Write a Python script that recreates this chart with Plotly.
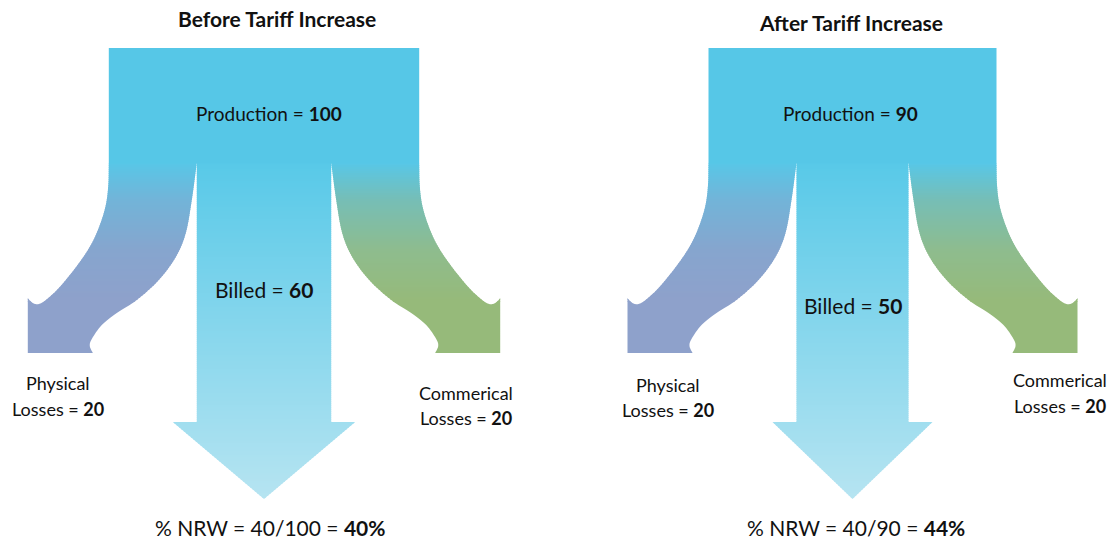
import numpy as np
import plotly.graph_objects as go

# ---------------- data ----------------
panel_titles = ["Before Tariff Increase", "After Tariff Increase"]
production = [100, 90]
billed = [60, 50]
physical_losses = [20, 20]
commercial_losses = [20, 20]

# ---------------- layout / style constants ----------------
W, H = 1112, 541
FONT = "Lato"
PANEL_CX = [264, 852.5]          # centre of billed stem per panel
TITLE_POS = [(277, 18), (851, 22)]
Y_TOP, Y_SPLIT, Y_BOX_BOT, Y_TIP = 48, 163, 353, 499
PX_BILLED, PX_LOSS = 2.24, 4.4    # pixels per unit of flow
HEAD_EXTRA, HEAD_H = 24, 77
PROD_LABEL = [(269, 113), (850, 113)]
BILLED_LABEL_Y = [289, 305]
PHYS_LABEL = [(58, 383, 409), (668, 385, 410)]
COMM_LABEL = [(466, 393, 418), (1060, 380, 406)]
NRW_LABEL = [(270, 527), (856, 527)]

PROD_COLOR = (86, 199, 231)
BILLED_STOPS = [(163, (88, 201, 232)), (499, (182, 228, 241))]
PHYS_STOPS = [(163, (88, 199, 231)), (200, (114, 180, 216)), (250, (134, 165, 206)), (300, (142, 161, 203))]
COMM_STOPS = [(163, (88, 199, 231)), (200, (118, 190, 182)), (250, (142, 188, 142)), (300, (150, 186, 122))]

# branch outline (local: d = outward distance from production edge, y)
OUTER_PTS = [(0, 163), (0.5, 185), (3, 205), (9, 225), (18, 245), (32, 266), (50, 288),
             (63, 300), (70, 304), (75, 303.5), (79, 300.5), (81, 298)]
BOX_OUT, BOX_IN = 81, 16
INNER_LOW = [(16, 353), (19, 346), (17, 339), (7, 325)]
INNER_UP_OFF = [(80, 313), (60, 300), (38, 280), (21, 257), (11, 233), (5, 200), (0, 163)]


def smooth(pts, n=10):
    pts = np.array(pts, float)
    P = np.vstack([pts[0] * 2 - pts[1], pts, pts[-1] * 2 - pts[-2]])
    out = []
    for i in range(1, len(P) - 2):
        p0, p1, p2, p3 = P[i - 1], P[i], P[i + 1], P[i + 2]
        for t in np.linspace(0, 1, n, endpoint=False):
            t2, t3 = t * t, t * t * t
            out.append(0.5 * ((2 * p1) + (-p0 + p2) * t + (2 * p0 - 5 * p1 + 4 * p2 - p3) * t2
                              + (-p0 + 3 * p1 - 3 * p2 + p3) * t3))
    out.append(P[-2])
    return [tuple(p) for p in out]


def clip_half(poly, y0, sign):
    out = []
    n = len(poly)
    for i in range(n):
        P, Q = poly[i], poly[(i + 1) % n]
        pin = sign * (P[1] - y0) >= 0
        qin = sign * (Q[1] - y0) >= 0
        if pin:
            out.append(P)
        if pin != qin:
            t = (y0 - P[1]) / (Q[1] - P[1])
            out.append((P[0] + t * (Q[0] - P[0]), y0))
    return out


def color_at(stops, y):
    if y <= stops[0][0]:
        c = stops[0][1]
    elif y >= stops[-1][0]:
        c = stops[-1][1]
    else:
        for (ya, ca), (yb, cb) in zip(stops[:-1], stops[1:]):
            if ya <= y <= yb:
                f = (y - ya) / (yb - ya)
                c = tuple(ca[k] + f * (cb[k] - ca[k]) for k in range(3))
                break
    return "rgb(%d,%d,%d)" % tuple(round(v) for v in c)


def path_of(poly):
    return "M " + " L ".join("%.2f,%.2f" % p for p in poly) + " Z"


def gradient_shapes(poly, stops, y0, y1, step=2.0):
    shapes = []
    y = y0
    last = stops[-1][0]
    while y < y1:
        if y >= last:
            yb = y1
        else:
            yb = min(y + step, y1)
        ext = 0.8 if yb < y1 else 0
        band = clip_half(clip_half(poly, y, +1), yb + ext, -1)
        if len(band) >= 3:
            shapes.append(dict(type="path", xref="x", yref="y", path=path_of(band),
                               fillcolor=color_at(stops, (y + yb) / 2),
                               line=dict(width=0), layer="above"))
        y = yb
    return shapes


def branch_poly(x0, sign, L):
    outer = smooth(OUTER_PTS, 8)
    inner_pts = INNER_LOW + [(-L + off, yy) for off, yy in INNER_UP_OFF]
    inner = smooth(inner_pts, 8)
    local = outer + [(BOX_OUT, Y_BOX_BOT), (BOX_IN, Y_BOX_BOT)] + inner[1:]
    return [(x0 + sign * d, yy) for d, yy in local]


shapes = []
annotations = []


def ann(x, y, text, size):
    annotations.append(dict(x=x, y=y, xref="x", yref="y", text=text, showarrow=False,
                            xanchor="center", yanchor="middle",
                            font=dict(family=FONT, size=size, color="#111111")))


for i in range(2):
    cx = PANEL_CX[i]
    B = billed[i] * PX_BILLED
    Lp = physical_losses[i] * PX_LOSS
    Lc = commercial_losses[i] * PX_LOSS
    xl = cx - B / 2 - Lp
    xr = cx + B / 2 + Lc

    # loss branches
    phys = branch_poly(xl, -1, Lp)
    comm = branch_poly(xr, +1, Lc)
    shapes += gradient_shapes(phys, PHYS_STOPS, Y_SPLIT, Y_BOX_BOT)
    shapes += gradient_shapes(comm, COMM_STOPS, Y_SPLIT, Y_BOX_BOT)

    # billed arrow
    base = Y_TIP - HEAD_H
    arrow = [(cx - B / 2, Y_SPLIT), (cx - B / 2, base), (cx - B / 2 - HEAD_EXTRA, base),
             (cx, Y_TIP), (cx + B / 2 + HEAD_EXTRA, base), (cx + B / 2, base), (cx + B / 2, Y_SPLIT)]
    shapes += gradient_shapes(arrow, BILLED_STOPS, Y_SPLIT, Y_TIP)

    # production block
    shapes.append(dict(type="rect", xref="x", yref="y", x0=xl, x1=xr, y0=Y_TOP, y1=Y_SPLIT + 0.5,
                       fillcolor="rgb(%d,%d,%d)" % PROD_COLOR, line=dict(width=0), layer="above"))

    # texts
    tx, ty = TITLE_POS[i]
    ann(tx, ty, "<b>%s</b>" % panel_titles[i], 21)
    plx, ply = PROD_LABEL[i]
    ann(plx, ply, "Production = <b>%d</b>" % production[i], 19)
    ann(cx, BILLED_LABEL_Y[i], "Billed = <b>%d</b>" % billed[i], 21)
    px_, py1, py2 = PHYS_LABEL[i]
    ann(px_, py1, "Physical", 18)
    ann(px_, py2, "Losses = <b>%d</b>" % physical_losses[i], 18)
    qx, qy1, qy2 = COMM_LABEL[i]
    ann(qx, qy1, "Commerical", 18)
    ann(qx, qy2, "Losses = <b>%d</b>" % commercial_losses[i], 18)
    nrw = physical_losses[i] + commercial_losses[i]
    pct = round(100 * nrw / production[i])
    nx, ny = NRW_LABEL[i]
    ann(nx, ny, "%% NRW = %d/%d = <b>%d%%</b>" % (nrw, production[i], pct), 21)

fig = go.Figure()
fig.add_trace(go.Scatter(x=[], y=[], mode="markers", hoverinfo="skip", showlegend=False))
fig.update_layout(
    width=W, height=H,
    margin=dict(l=0, r=0, t=0, b=0),
    paper_bgcolor="white", plot_bgcolor="white",
    xaxis=dict(range=[0, W], visible=False, fixedrange=True),
    yaxis=dict(range=[H, 0], visible=False, fixedrange=True),
    shapes=shapes, annotations=annotations, showlegend=False,
)
fig.write_html("out.html", config={"displayModeBar": False},
               post_script="document.body.style.margin='0';document.body.style.overflow='hidden';")
